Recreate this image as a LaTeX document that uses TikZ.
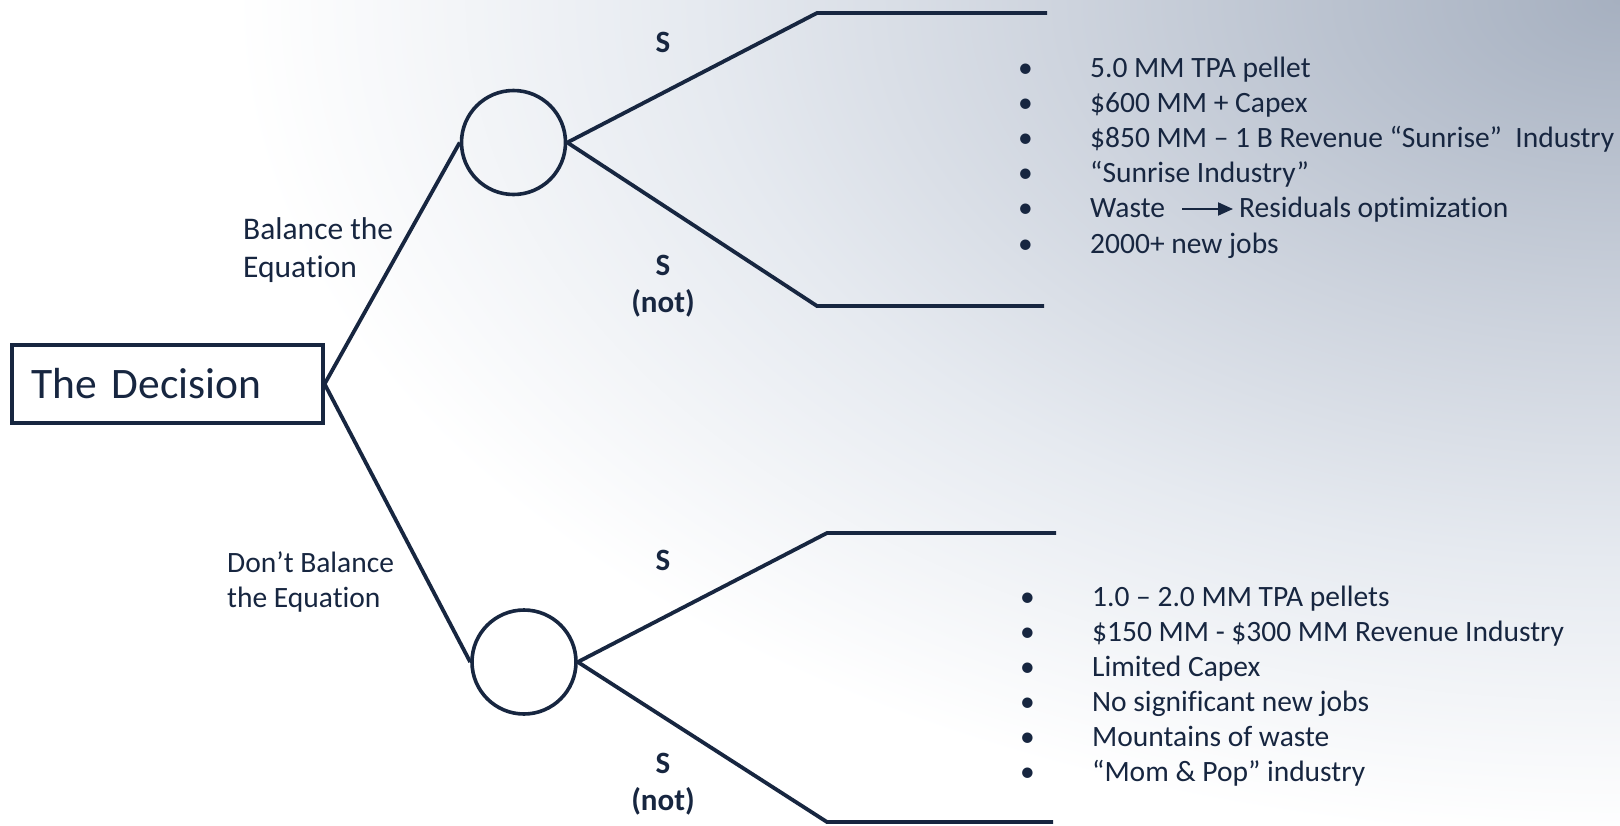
\documentclass[tikz,border=0pt]{standalone}
\usepackage{fontspec}
\setmainfont{Carlito}[Ligatures=NoCommon]
\usetikzlibrary{arrows.meta,positioning}

\definecolor{navy}{RGB}{23,38,64}
\definecolor{skydeep}{RGB}{166,176,192}
\definecolor{skymid}{RGB}{206,212,222}
\definecolor{skylight}{RGB}{230,234,240}
\pgfdeclareradialshading{skyglow}{\pgfpoint{0bp}{0bp}}{color(0bp)=(skydeep); color(8.5bp)=(skymid); color(14bp)=(skylight); color(21bp)=(white); color(50bp)=(white)}

\newcommand{\itm}{\makebox[72pt][l]{\textbullet}}

\begin{document}
\begin{tikzpicture}[x=1pt, y=-1pt,
    branch/.style = {draw=navy, line width=3.8pt},
    chance/.style = {draw=navy, line width=3.6pt, circle, minimum size=104pt, inner sep=0pt},
    choicebox/.style = {draw=navy, line width=3.6pt, fill=white, anchor=west, minimum height=78pt,
        text width=271pt, inner xsep=20pt, align=left, text=navy, font=\fontsize{43.5}{50}\selectfont},
    lbl/.style = {text=navy, inner sep=0pt, align=left, font=\fontsize{31.5}{38}\selectfont},
    outcome/.style = {text=navy, inner sep=0pt, align=center, font=\bfseries\fontsize{31}{37}\selectfont},
    item/.style = {text=navy, inner sep=0pt, anchor=base west, font=\fontsize{29.5}{35}\selectfont}]

  % sky
  \useasboundingbox (0,0) rectangle (1620,825);
  \fill[white] (0,0) rectangle (1620,825);
  \begin{scope}
    \clip (0,0) rectangle (1620,825);
    \shade[shading=skyglow] (1620,0) ellipse [x radius=1650, y radius=1000];
  \end{scope}

  % decision and chance nodes
  \node[choicebox] (decision) at (10,384) {The Decision};
  \node[chance] (chanceA) at (513.5,142.5) {};
  \node[chance] (chanceB) at (524,662) {};

  \coordinate (sA) at (817,13);     \coordinate (sAend) at (1047,13);
  \coordinate (nA) at (817,306);    \coordinate (nAend) at (1044,306);
  \coordinate (sB) at (827,533);    \coordinate (sBend) at (1056,533);
  \coordinate (nB) at (827,822);    \coordinate (nBend) at (1053,822);

  \draw[branch] (decision.east) -- (chanceA.west);
  \draw[branch] (decision.east) -- (chanceB.west);
  \draw[branch] (chanceA.east) -- (sA) -- (sAend);
  \draw[branch] (chanceA.east) -- (nA) -- (nAend);
  \draw[branch] (chanceB.east) -- (sB) -- (sBend);
  \draw[branch] (chanceB.east) -- (nB) -- (nBend);

  % branch labels
  \node[lbl, anchor=base west] (balance) at (243,277) {Balance the\\Equation};
  \node[lbl, anchor=base west, font=\fontsize{29.5}{35}\selectfont] (nobalance) at (227,607) {Don’t Balance\\the Equation};

  \node[outcome, anchor=base] (sTopA) at (663,52) {S};
  \node[outcome, anchor=base] (notA) at (663,312) {S\\(not)};
  \node[outcome, anchor=base] (sTopB) at (663,570) {S};
  \node[outcome, anchor=base] (notB) at (663,810) {S\\(not)};

  % outcome of balancing
  \node[item] (upA1) at (1018,77) {\itm 5.0 MM TPA pellet};
  \node[item] (upA2) at (1018,112) {\itm \$600 MM + Capex};
  \node[item] (upA3) at (1018,147) {\itm \$850 MM – 1 B Revenue “Sunrise”\ \ Industry};
  \node[item] (upA4) at (1018,182) {\itm “Sunrise Industry”};
  \node[item] (upA5) at (1018,217) {\itm Waste};
  \node[item] (resid) at (1239,217) {Residuals optimization};
  \node[item] (upA6) at (1018,253) {\itm 2000+ new jobs};
  \draw[navy, line width=2pt, -{Triangle[length=15pt, width=13pt]}]
    ([xshift=17pt, yshift=8pt]upA5.base east) -- ([xshift=-6pt, yshift=8pt]resid.base west);

  % outcome of not balancing
  \node[item] (upB1) at (1020,606) {\itm 1.0 – 2.0 MM TPA pellets};
  \node[item] (upB2) at (1020,641) {\itm \$150 MM - \$300 MM Revenue Industry};
  \node[item] (upB3) at (1020,676) {\itm Limited Capex};
  \node[item] (upB4) at (1020,711) {\itm No significant new jobs};
  \node[item] (upB5) at (1020,746) {\itm Mountains of waste};
  \node[item] (upB6) at (1020,781) {\itm “Mom \& Pop” industry};
\end{tikzpicture}
\end{document}
